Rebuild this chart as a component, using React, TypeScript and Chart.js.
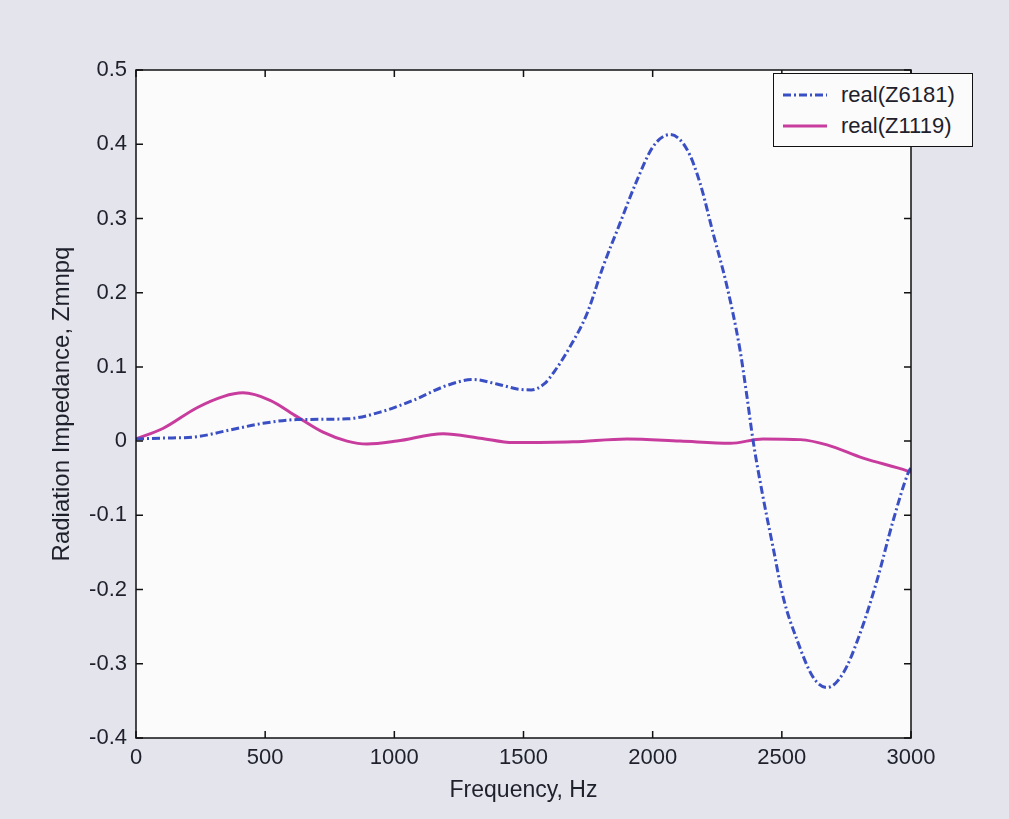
import React, { useEffect, useRef } from "react";
import { Chart, registerables } from "chart.js";

Chart.register(...registerables);

// ---- data ----
const blueLabel = "real(Z6181)";
const pinkLabel = "real(Z1119)";

const blueFreq = [0, 100, 236, 364, 492, 623, 817, 945, 1073, 1204, 1305, 1397, 1480, 1530, 1580, 1620, 1680, 1746, 1808, 1874, 1940, 2002, 2067, 2133, 2183, 2234, 2288, 2338, 2365, 2389, 2427, 2466, 2505, 2559, 2621, 2675, 2737, 2803, 2869, 2931, 2990, 3000];
const blueVals = [0.003, 0.004, 0.006, 0.015, 0.024, 0.029, 0.03, 0.039, 0.055, 0.075, 0.083, 0.077, 0.07, 0.069, 0.077, 0.094, 0.127, 0.172, 0.235, 0.294, 0.352, 0.397, 0.413, 0.393, 0.348, 0.28, 0.208, 0.123, 0.06, 0.0, -0.075, -0.143, -0.21, -0.268, -0.318, -0.332, -0.313, -0.259, -0.187, -0.107, -0.042, -0.036];

const pinkFreq = [0, 104, 236, 337, 414, 519, 623, 724, 817, 894, 1010, 1189, 1332, 1460, 1692, 1900, 2106, 2300, 2427, 2571, 2675, 2815, 2985, 3000];
const pinkVals = [0.003, 0.017, 0.045, 0.06, 0.065, 0.055, 0.033, 0.012, 0.0, -0.004, 0.0, 0.01, 0.004, -0.002, -0.001, 0.003, 0.0, -0.003, 0.003, 0.002, -0.005, -0.023, -0.04, -0.042];

const xTicks = [0, 500, 1000, 1500, 2000, 2500, 3000];
const yTicks = [-0.4, -0.3, -0.2, -0.1, 0, 0.1, 0.2, 0.3, 0.4, 0.5];

const xTitle = "Frequency, Hz";
const yTitle = "Radiation Impedance, Zmnpq";

const BLUE = "#3a4fc4";
const PINK = "#c83c9e";
const TEXT = "#1e202b";
const FONT = "'Liberation Sans', Arial, sans-serif";

const framePlugin = {
  id: "frame",
  beforeDraw(chart: any) {
    const { ctx, chartArea: a } = chart;
    ctx.save();
    ctx.fillStyle = "#fbfbfb";
    ctx.fillRect(a.left, a.top, a.right - a.left, a.bottom - a.top);
    ctx.restore();
  },
  afterDraw(chart: any) {
    const { ctx, chartArea: a, scales } = chart;
    const L = 7;
    ctx.save();
    ctx.strokeStyle = "#111";
    ctx.lineWidth = 1.5;
    ctx.strokeRect(a.left, a.top, a.right - a.left, a.bottom - a.top);
    ctx.beginPath();
    xTicks.forEach((v) => {
      const px = scales.x.getPixelForValue(v);
      ctx.moveTo(px, a.bottom);
      ctx.lineTo(px, a.bottom - L);
      ctx.moveTo(px, a.top);
      ctx.lineTo(px, a.top + L);
    });
    yTicks.forEach((v) => {
      const py = scales.y.getPixelForValue(v);
      ctx.moveTo(a.left, py);
      ctx.lineTo(a.left + L, py);
      ctx.moveTo(a.right, py);
      ctx.lineTo(a.right - L, py);
    });
    ctx.stroke();
    ctx.restore();
  },
};

export default function App() {
  const ref = useRef<HTMLCanvasElement>(null);

  useEffect(() => {
    if (!ref.current) return;
    const chart = new Chart(ref.current, {
      type: "line",
      data: {
        datasets: [
          {
            label: blueLabel,
            data: blueFreq.map((f, i) => ({ x: f, y: blueVals[i] })),
            borderColor: BLUE,
            borderWidth: 3,
            borderDash: [8, 3, 2, 3],
            pointRadius: 0,
            cubicInterpolationMode: "monotone",
            fill: false,
          },
          {
            label: pinkLabel,
            data: pinkFreq.map((f, i) => ({ x: f, y: pinkVals[i] })),
            borderColor: PINK,
            borderWidth: 3,
            pointRadius: 0,
            cubicInterpolationMode: "monotone",
            fill: false,
          },
        ],
      },
      options: {
        animation: false,
        responsive: false,
        maintainAspectRatio: false,
        layout: { padding: { left: 0, top: 70, right: 98, bottom: 0 } },
        plugins: { legend: { display: false }, tooltip: { enabled: false } },
        scales: {
          x: {
            type: "linear",
            min: 0,
            max: 3000,
            grid: { display: false, drawTicks: false },
            border: { display: false },
            afterBuildTicks: (s: any) => {
              s.ticks = xTicks.map((v) => ({ value: v }));
            },
            afterFit: (s: any) => {
              s.height = 81;
            },
            ticks: {
              color: TEXT,
              font: { family: FONT, size: 22 },
              padding: 7,
              maxRotation: 0,
              autoSkip: false,
              callback: (v: any) => String(v),
            },
            title: {
              display: true,
              text: xTitle,
              color: TEXT,
              font: { family: FONT, size: 23 },
              padding: { top: 0, bottom: 15 },
            },
          },
          y: {
            type: "linear",
            min: -0.4,
            max: 0.5,
            grid: { display: false, drawTicks: false },
            border: { display: false },
            afterBuildTicks: (s: any) => {
              s.ticks = yTicks.map((v) => ({ value: v }));
            },
            afterFit: (s: any) => {
              s.width = 136;
            },
            ticks: {
              color: TEXT,
              font: { family: FONT, size: 22 },
              padding: 9,
              autoSkip: false,
              callback: (v: any) => String(Number(Number(v).toFixed(1))),
            },
            title: {
              display: true,
              text: yTitle,
              color: TEXT,
              font: { family: FONT, size: 24 },
              padding: { top: 48, bottom: 0 },
            },
          },
        },
      },
      plugins: [framePlugin],
    } as any);
    return () => chart.destroy();
  }, []);

  return (
    <div
      style={{
        position: "fixed",
        left: 0,
        top: 0,
        width: 1009,
        height: 819,
        background: "#e3e4ec",
        overflow: "hidden",
      }}
    >
      <canvas ref={ref} width={1009} height={819} style={{ width: 1009, height: 819, display: "block" }} />
      <div
        style={{
          position: "absolute",
          left: 773,
          top: 73,
          width: 198,
          height: 72,
          border: "1.5px solid #111",
          background: "#fbfbfb",
          fontFamily: FONT,
          fontSize: 22,
          color: TEXT,
        }}
      >
        <div style={{ position: "absolute", left: 9, top: 9, display: "flex", alignItems: "center", height: 24 }}>
          <svg width={44} height={6}>
            <line x1={0} y1={3} x2={44} y2={3} stroke={BLUE} strokeWidth={3} strokeDasharray="8 3 2 3" />
          </svg>
          <span style={{ marginLeft: 14, lineHeight: "24px" }}>{blueLabel}</span>
        </div>
        <div style={{ position: "absolute", left: 9, top: 40, display: "flex", alignItems: "center", height: 24 }}>
          <svg width={44} height={6}>
            <line x1={0} y1={3} x2={44} y2={3} stroke={PINK} strokeWidth={3} />
          </svg>
          <span style={{ marginLeft: 14, lineHeight: "24px" }}>{pinkLabel}</span>
        </div>
      </div>
    </div>
  );
}
